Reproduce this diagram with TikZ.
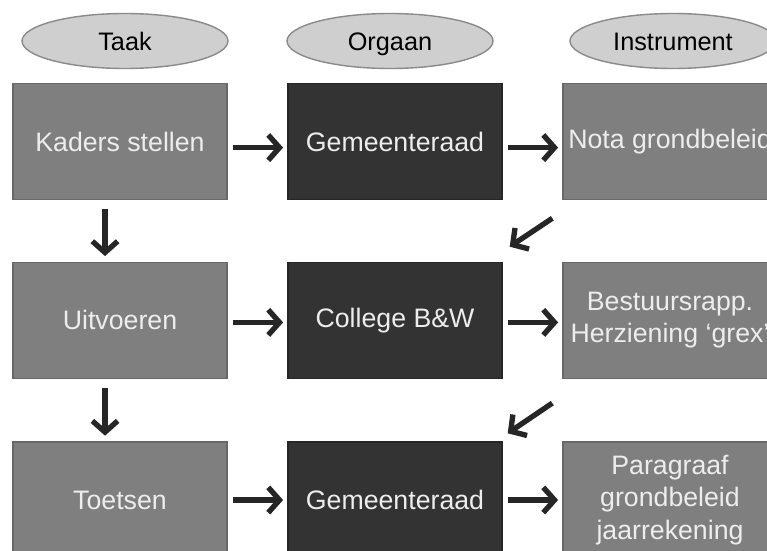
\documentclass[tikz,border=0pt]{standalone}
\usepackage{fontspec}
\setmainfont{Liberation Sans}
\usetikzlibrary{shapes.geometric,arrows.meta}

\definecolor{boxgray}{HTML}{7F7F7F}
\definecolor{boxedge}{HTML}{686868}
\definecolor{boxdark}{HTML}{333333}
\definecolor{ovalfill}{HTML}{CFCFCF}
\definecolor{ovaledge}{HTML}{8A8A8A}

\tikzset{
    kop/.style={ellipse, draw=ovaledge, line width=1pt, fill=ovalfill,
        minimum width=5.15cm, minimum height=1.375cm, inner sep=0pt,
        text height=13pt, text depth=0pt,
        font=\fontsize{18}{21}\selectfont},
    vak/.style={rectangle, draw=boxedge, line width=1pt, fill=boxgray,
        minimum width=5.35cm, minimum height=2.9cm, inner sep=2pt,
        text=white!93!black, align=center,
        font=\fontsize{19}{23}\selectfont},
    vakdonker/.style={vak, fill=boxdark, draw=black!85},
    pijl/.style={line width=3.8pt, black!85,
        -{Straight Barb[length=8pt, width=18pt]}},
}

\begin{document}
\begin{tikzpicture}

        % Frame of the picture
        \useasboundingbox (0,0) rectangle (19.175,-13.775);
        \clip (0,0) rectangle (19.175,-13.775);

        % Headings
        \node[kop] (taak) at (3.125,-1.025) {Taak};
        \node[kop] (orgaan) at (9.75,-1.025) {Orgaan};
        \node[kop] (instrument) at (16.825,-1.025) {Instrument};

        % First row
        \node[vak] (kaders) at (3.0,-3.54) {Kaders stellen};
        \node[vakdonker] (raad1) at (9.875,-3.54) {Gemeenteraad};
        \node[vak] (nota) at (16.75,-3.54) {Nota grondbeleid};

        % Second row
        \node[vak] (uitvoeren) at (3.0,-8.01) {Uitvoeren};
        \node[vakdonker] (college) at (9.875,-8.01) {College B\&W};
        \node[vak] (rapp) at (16.75,-8.01)
            {Bestuursrapp.\\Herziening ‘grex’};

        % Third row
        \node[vak] (toetsen) at (3.0,-12.5) {Toetsen};
        \node[vakdonker] (raad2) at (9.875,-12.5) {Gemeenteraad};
        \node[vak] (paragraaf) at (16.75,-12.5)
            {Paragraaf\\grondbeleid\\jaarrekening};

        % Arrows along the rows
        \draw[pijl, shorten <=4pt, shorten >=3pt]
            ([yshift=-0.15cm]kaders.east) -- ([yshift=-0.15cm]raad1.west);
        \draw[pijl, shorten <=4pt, shorten >=3pt]
            ([yshift=-0.15cm]raad1.east) -- ([yshift=-0.15cm]nota.west);
        \draw[pijl, shorten <=4pt, shorten >=3pt]
            ([yshift=-0.05cm]uitvoeren.east) -- ([yshift=-0.05cm]college.west);
        \draw[pijl, shorten <=4pt, shorten >=3pt]
            ([yshift=-0.05cm]college.east) -- ([yshift=-0.05cm]rapp.west);
        \draw[pijl, shorten <=4pt, shorten >=3pt]
            (toetsen.east) -- (raad2.west);
        \draw[pijl, shorten <=4pt, shorten >=3pt]
            (raad2.east) -- (paragraaf.west);

        % Arrows down the first column
        \draw[pijl, shorten <=6pt, shorten >=4pt]
            ([xshift=-0.375cm]kaders.south) -- ([xshift=-0.375cm]uitvoeren.north);
        \draw[pijl, shorten <=6pt, shorten >=4pt]
            ([xshift=-0.375cm]uitvoeren.south) -- ([xshift=-0.375cm]toetsen.north);

        % Arrows back from the instruments
        \draw[pijl]
            ([xshift=-0.25cm,yshift=-0.45cm]nota.south west)
            -- ([xshift=0.175cm,yshift=0.375cm]college.north east);
        \draw[pijl]
            ([xshift=-0.25cm,yshift=-0.6cm]rapp.south west)
            -- ([xshift=0.125cm,yshift=0.2cm]raad2.north east);

    \end{tikzpicture}
\end{document}
